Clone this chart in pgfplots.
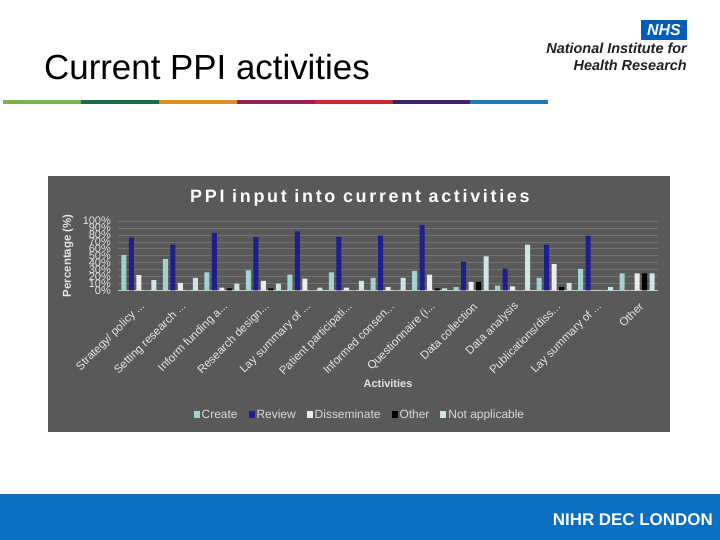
\documentclass[border=0pt]{standalone}
\usepackage{fontspec}
\setmainfont{Liberation Sans}
\usepackage{pgfplots}
\pgfplotsset{compat=1.18}
\definecolor{chartbg}{HTML}{595959}
\definecolor{gridgray}{HTML}{727272}
\definecolor{basecol}{HTML}{C8C8C8}
\definecolor{createcol}{HTML}{A2D3D3}
\definecolor{reviewcol}{HTML}{1E1E8C}
\definecolor{dissemcol}{HTML}{ECECEC}
\definecolor{othercol}{HTML}{000000}
\definecolor{nacol}{HTML}{CDE5E5}
\definecolor{tickcol}{HTML}{E6E6E6}
\definecolor{legcol}{HTML}{DADADA}
\definecolor{footblue}{HTML}{0B6FC1}
\definecolor{nhsblue}{HTML}{005EB8}
\definecolor{nhstext}{HTML}{231F20}
\definecolor{sA}{HTML}{7CB342}
\definecolor{sB}{HTML}{1A6A4C}
\definecolor{sC}{HTML}{E88A22}
\definecolor{sD}{HTML}{9D2157}
\definecolor{sE}{HTML}{D0282F}
\definecolor{sF}{HTML}{3C2463}
\definecolor{sG}{HTML}{1F7AC0}
\newcommand{\dd}{.\kern0pt.\kern0pt.}
\begin{document}
\begin{tikzpicture}[x=1bp,y=1bp]
\useasboundingbox (0,0) rectangle (720,540);
\fill[white] (0,0) rectangle (720,540);
% footer
\fill[footblue] (0,0) rectangle (720,46);
\node[anchor=base east, text=white, font=\fontsize{17}{20}\selectfont\bfseries, inner sep=0] at (713,14) {NIHR DEC LONDON};
% slide title
\node[anchor=base west, font=\fontsize{35}{40}\selectfont, inner sep=0] at (44,460) {Current PPI activities};
% colour stripe
\foreach \c [count=\i from 0] in {sA,sB,sC,sD,sE,sF,sG} {
  \fill[\c] ({3+\i*77.9},436) rectangle ({3+(\i+1)*77.9},440);
}
% NHS logo
\fill[nhsblue] (641,500) rectangle (687,520);
\node[text=white, font=\fontsize{16}{16}\selectfont\bfseries\itshape, inner sep=0] at (664,510) {NHS};
\node[anchor=base east, inner sep=0, text=nhstext, font=\fontsize{14.5}{16}\selectfont\bfseries\itshape] at (687,486) {National Institute for};
\node[anchor=base east, inner sep=0, text=nhstext, font=\fontsize{14.5}{16}\selectfont\bfseries\itshape] at (687,469) {Health Research};
% chart background
\fill[chartbg] (48,108) rectangle (670,364);
\begin{axis}[
  at={(118bp,249.5bp)}, anchor=south west,
  scale only axis, width=540bp, height=69.5bp,
  ybar=2.5bp, bar width=5bp,
  ymin=0, ymax=100, xmin=-0.5, xmax=12.5,
  axis line style={draw=none},
  major tick style={draw=none},
  ymajorgrids, grid style={gridgray, line width=0.6bp},
  ytick={0,10,20,30,40,50,60,70,80,90,100},
  yticklabels={0\%,10\%,20\%,30\%,40\%,50\%,60\%,70\%,80\%,90\%,100\%},
  extra y ticks={0}, extra y tick labels={},
  extra y tick style={grid style={draw=basecol, line width=1.5bp}},
  yticklabel style={font=\fontsize{11}{11}\selectfont, text=tickcol, inner sep=1bp, xshift=-6bp},
  xtick={0,1,2,3,4,5,6,7,8,9,10,11,12},
  xticklabels={{Strategy/ policy \dd},{Setting research \dd},{Inform funding a\dd},{Research design\dd},{Lay summary of \dd},{Patient participati\dd},{Informed consen\dd},{Questionnaire (i\dd},{Data collection},{Data analysis},{Publications/diss\dd},{Lay summary of \dd},{Other}},
  xticklabel style={rotate=45, anchor=east, text=tickcol, font=\fontsize{11.5}{12}\selectfont, inner sep=1bp, yshift=-10bp, xshift=-3bp},
  title={PPI input into current activities},
  title style={at={(axis description cs:0.448,1.245)}, anchor=center, text=white, font=\fontsize{18}{20}\selectfont\bfseries\addfontfeature{LetterSpace=15}},
  xlabel={Activities},
  xlabel style={at={(axis description cs:0.5,-1.345)}, anchor=center, text=tickcol, font=\fontsize{11}{12}\selectfont\bfseries},
  ylabel={Percentage (\%)},
  ylabel style={at={(axis description cs:-0.0926,0.5)}, anchor=center, text=tickcol, font=\fontsize{11.5}{12}\selectfont\bfseries},
  legend style={at={(axis description cs:0.448,-1.79)}, anchor=center, draw=none, fill=none, text=legcol, font=\fontsize{12}{12}\selectfont, legend columns=5, /tikz/every even column/.append style={column sep=9bp}},
  legend image code/.code={\fill[#1] (0bp,-3.5bp) rectangle (6bp,3.5bp);},
]
\addplot[fill=createcol, draw=none] coordinates {(0,51) (1,45) (2,26) (3,29) (4,23) (5,26) (6,18) (7,28) (8,5) (9,7) (10,18) (11,31) (12,24.5)};
\addplot[fill=reviewcol, draw=none] coordinates {(0,76) (1,66) (2,83) (3,77) (4,85) (5,77) (6,79) (7,94) (8,41) (9,31) (10,66) (11,79) (12,0)};
\addplot[fill=dissemcol, draw=none] coordinates {(0,22) (1,11) (2,4) (3,14) (4,17) (5,4) (6,5) (7,23) (8,12.5) (9,6) (10,38) (11,0) (12,24.5)};
\addplot[fill=othercol, draw=none] coordinates {(0,0) (1,0) (2,3) (3,3) (4,0) (5,0) (6,0) (7,3) (8,12.5) (9,0) (10,5) (11,0) (12,24.5)};
\addplot[fill=nacol, draw=none] coordinates {(0,15) (1,18) (2,10) (3,10) (4,4) (5,14) (6,18) (7,3) (8,49) (9,66) (10,11) (11,5) (12,24.5)};
\legend{Create,Review,Disseminate,Other,Not applicable}
\end{axis}
\end{tikzpicture}
\end{document}
